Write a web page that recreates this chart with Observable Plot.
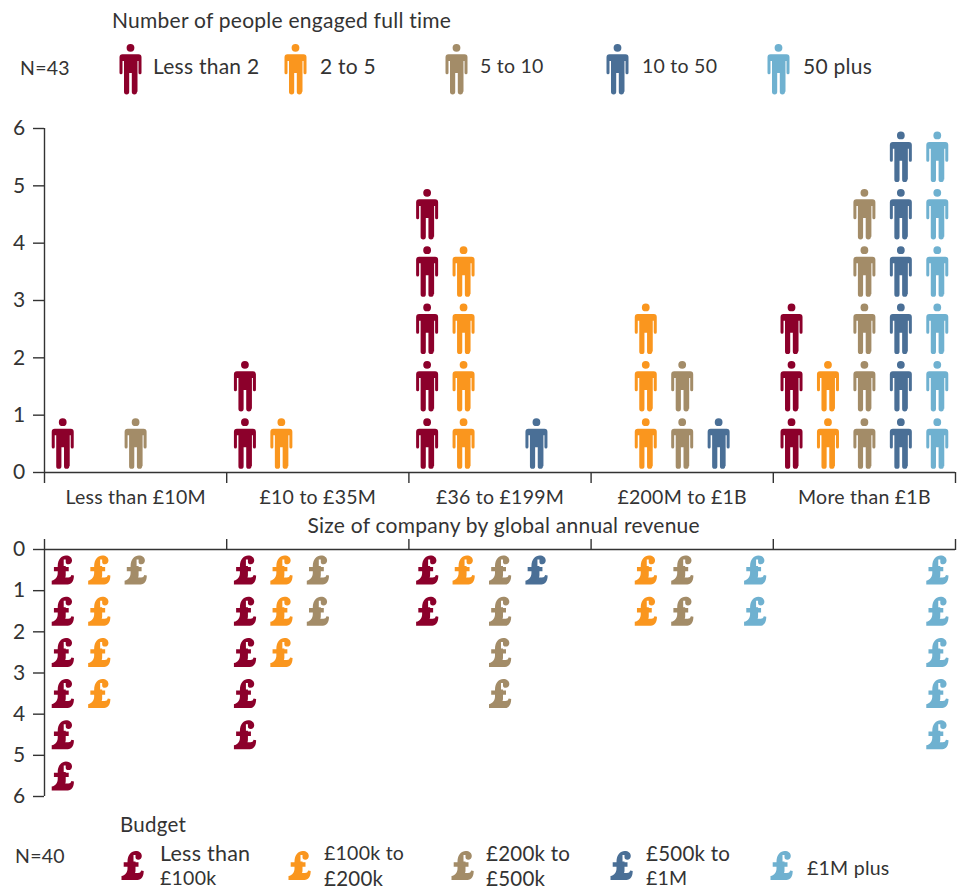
<!DOCTYPE html>
<html><head><meta charset="utf-8">
<script src="https://cdn.jsdelivr.net/npm/d3@7"></script>
<script src="https://cdn.jsdelivr.net/npm/@observablehq/plot@0.6"></script>
<style>
html,body{margin:0;padding:0;background:#fff;overflow:hidden}
#page{position:relative;width:960px;height:890px;overflow:hidden;font-family:Lato,sans-serif;color:#333;font-size:20.5px;letter-spacing:.25px}
.t{position:absolute;white-space:nowrap;line-height:18px}
.a{position:absolute}
.a svg{display:block}
</style></head><body><div id="page"></div>
<script>
const revenueBands = ["Less than £10M","£10 to £35M","£36 to £199M","£200M to £1B","More than £1B"];
const staffBands = ["Less than 2","2 to 5","5 to 10","10 to 50","50 plus"];
const budgetBands = [["Less than","£100k"],["£100k to","£200k"],["£200k to","£500k"],["£500k to","£1M"],["£1M plus"]];
const palette = ["#8c002b","#fa961e","#a38c68","#4a6f96","#6fb1d0"];

// counts per revenue band, one array per series
const staffLessThan2 = [1,2,5,0,3];
const staff2to5      = [0,1,4,3,2];
const staff5to10     = [1,0,0,2,5];
const staff10to50    = [0,0,1,1,6];
const staff50plus    = [0,0,0,0,6];

const budgetLessThan100k = [6,5,2,0,0];
const budget100kto200k   = [4,3,1,2,0];
const budget200kto500k   = [1,2,4,2,0];
const budget500kto1M     = [0,0,1,0,0];
const budget1Mplus       = [0,0,0,2,5];

const yTicks = [0,1,2,3,4,5,6];
const groupEdges = [0,5,10,15,20,25];
const groupMids = [2.5,7.5,12.5,17.5,22.5];

function units(seriesList){
  const rows=[];
  seriesList.forEach((counts,s)=>counts.forEach((n,g)=>{
    for(let k=0;k<n;k++) rows.push({slot:g*5+s+0.5, level:k+0.5, series:s});
  }));
  return rows;
}
// Pictogram symbols for Plot.dot, designed at r = 10
const person = {draw(c,size){
  const u=Math.sqrt(size/Math.PI)/10;
  const L=(x,y)=>c.lineTo(x*u,y*u), M=(x,y)=>c.moveTo(x*u,y*u);
  M(3.9,-21.7); c.arc(0,-21.7*u,3.9*u,0,2*Math.PI); c.closePath();
  M(-8,-15.2); L(8,-15.2);
  c.arc(8*u,-12.2*u,3*u,-Math.PI/2,0);
  L(11,3.2); c.arc(9.5*u,3.2*u,1.5*u,0,Math.PI);
  L(8,-8.5); L(7,-8.5);
  L(7,22.3); c.arc(3.9*u,22.3*u,2.6*u,0,Math.PI);
  L(1.3,3.5); L(-1.3,3.5);
  L(-1.3,22.3); c.arc(-3.9*u,22.3*u,2.6*u,0,Math.PI);
  L(-6.5,-8.5); L(-8,-8.5);
  L(-8,3.2); c.arc(-9.5*u,3.2*u,1.5*u,0,Math.PI);
  L(-11,-12.2); c.arc(-8*u,-12.2*u,3*u,Math.PI,1.5*Math.PI);
  c.closePath();
}};
const pound = {draw(c,size){
  const u=Math.sqrt(size/Math.PI)/10;
  const M=(x,y)=>c.moveTo(x*u,y*u), L=(x,y)=>c.lineTo(x*u,y*u);
  const C=(a,b,d,e,f,g)=>c.bezierCurveTo(a*u,b*u,d*u,e*u,f*u,g*u);
  M(-5,-4);
  C(-5,-10.5,-1,-14.5,3.2,-14.5);
  C(6.8,-14.5,9.3,-12.5,9.3,-9.5);
  C(9.3,-7.2,7.7,-5.8,5.8,-5.8);
  C(3.9,-5.8,3,-6.8,3,-8.2);
  L(3,-3.2); L(6,-3.2); L(6,1.2); L(3,1.2); L(3,5);
  C(3,6,2.8,7,2.5,7.5);
  L(5.5,7.5);
  C(7.3,7.5,8.2,6.7,8.7,5);
  L(11.2,5.5);
  C(11.2,11,9,14.5,5,14.5);
  L(-11,14.5); L(-11,10.6);
  C(-7,9.8,-5,6.3,-5,3);
  L(-5,1.2); L(-8.8,1.2); L(-8.8,-3.2); L(-5,-3.2);
  c.closePath();
  M(3,-8.2); L(3,-10.5); L(1,-10.5); L(1,-4); L(3,-4); c.closePath();
}};

const font = "Lato, sans-serif", ink="#333", tick=11, fs=21;
const page = document.getElementById("page");
const common = {width:960, marginLeft:44, marginRight:5, style:{fontFamily:font,fontSize:fs+"px",color:ink,background:"transparent",overflow:"visible"}};
const xScale = {domain:[0,25]};
const colorScale = {domain:[0,1,2,3,4], range:palette};
const yAxis = ()=>Plot.axisY({ticks:yTicks,tickFormat:d3.format("d"),tickSize:tick,tickPadding:8,label:null,stroke:ink,strokeWidth:1.4,fill:ink,fontSize:fs,strokeOpacity:1});

const top1 = Plot.plot({
  ...common, height:410, marginTop:28, marginBottom:38,
  x:xScale, y:{domain:[0,6]}, color:colorScale,
  marks:[
    Plot.ruleY([0],{stroke:ink,strokeWidth:1.4}),
    Plot.ruleX([0],{y1:0,y2:6,stroke:ink,strokeWidth:1.4}),
    yAxis(),
    Plot.axisX({ticks:groupEdges,tickSize:tick,tickFormat:()=>"",label:null,stroke:ink,strokeWidth:1.4,strokeOpacity:1}),
    Plot.axisX({ticks:groupMids,tickSize:0,tickPadding:18,tickFormat:(d,i)=>revenueBands[i],label:null,fill:ink,fontSize:19.5,style:"letter-spacing:.2px"}),
    Plot.text(["Size of company by global annual revenue"],{x:12.6,y:0,dy:54,text:d=>d,fill:ink,fontSize:21,style:"letter-spacing:.35px"}),
    Plot.dot(units([staffLessThan2,staff2to5,staff5to10,staff10to50,staff50plus]),{x:"slot",y:"level",fill:"series",stroke:"none",symbol:person,r:10})
  ]
});
const wrap1=document.createElement("div");wrap1.className="a";wrap1.style.cssText="left:0;top:100px";wrap1.append(top1);page.append(wrap1);

const bottom = Plot.plot({
  ...common, height:310, marginTop:39, marginBottom:24,
  x:xScale, y:{domain:[0,6],reverse:true}, color:colorScale,
  marks:[
    Plot.ruleY([0],{stroke:ink,strokeWidth:1.4}),
    Plot.ruleX([0],{y1:0,y2:6,stroke:ink,strokeWidth:1.4}),
    yAxis(),
    Plot.axisX({anchor:"top",ticks:groupEdges,tickSize:tick,tickFormat:()=>"",label:null,stroke:ink,strokeWidth:1.4,strokeOpacity:1}),
    Plot.dot(units([budgetLessThan100k,budget100kto200k,budget200kto500k,budget500kto1M,budget1Mplus]),{x:"slot",y:"level",fill:"series",stroke:"none",symbol:pound,r:10})
  ]
});
const wrap2=document.createElement("div");wrap2.className="a";wrap2.style.cssText="left:0;top:510px";wrap2.append(bottom);page.append(wrap2);

function text(str,x,y,size){const d=document.createElement("div");d.className="t";d.textContent=str;d.style.left=x+"px";d.style.top=(y-9)+"px";if(size)d.style.fontSize=size+"px";page.append(d);return d;}
function icon(symbol,fill,cx,cy,h){
  const svg=Plot.plot({width:26,height:h,margin:0,axis:null,marks:[Plot.dot([0],{frameAnchor:"middle",fill,stroke:"none",symbol,r:10})]});
  const d=document.createElement("div");d.className="a";d.style.left=(cx-13)+"px";d.style.top=(cy-h/2)+"px";d.append(svg);page.append(d);
}
text("Number of people engaged full time",112,20,21);
text("N=43",20,68,19.5);
text("Budget",120,824,20.5);
text("N=40",15,856,19.5);
[130,295,456,617,778].forEach((cx,i)=>{
  icon(person,palette[i],cx,69,56);
  text(staffBands[i],[153,320,480,642,803][i],66,staffBands[i].includes("1")?19.5:21);
});
[132,299,462,621,781].forEach((cx,i)=>{
  icon(pound,palette[i],cx,865,32);
  const lines=budgetBands[i], lx=[160,324,486,646,807][i];
  const sz=s=>s.includes("Less")?21.5:s.includes("100k")?19.5:s.includes("1M")?19.5:20.5;
  if(lines.length>1){text(lines[0],lx,853,sz(lines[0]));text(lines[1],lx,877.5,sz(lines[1]));} else text(lines[0],lx,868,sz(lines[0]));
});
</script></body></html>
